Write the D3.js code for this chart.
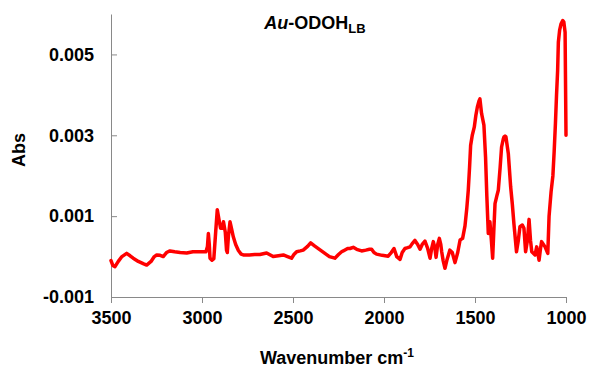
<!DOCTYPE html>
<html>
<head>
<meta charset="utf-8">
<script src="https://cdn.jsdelivr.net/npm/d3@7"></script>
<style>
html, body { margin: 0; padding: 0; background: #fff; }
svg { display: block; font-family: "Liberation Sans", Arial, sans-serif; }
</style>
</head>
<body>
<svg id="chart" width="589" height="368"></svg>
<script>
// Wavenumber (cm-1) and absorbance
const wavenumbers = [3500,3490,3478,3460,3440,3414,3395,3378,3350,3320,3304,3280,3262,3249,3230,3213,3195,3176,3150,3120,3084,3050,3011,2978,2970,2965,2960,2956,2945,2935,2925,2916,2906,2898,2890,2882,2872,2865,2861,2855,2846,2838,2828,2815,2800,2785,2773,2740,2710,2682,2645,2609,2580,2553,2530,2508,2495,2480,2460,2444,2420,2403,2380,2340,2300,2270,2250,2233,2224,2200,2187,2169,2150,2123,2100,2080,2068,2055,2041,2010,1977,1960,1945,1930,1912,1900,1885,1870,1857,1845,1830,1815,1802,1790,1775,1760,1747,1738,1729,1720,1714,1705,1696,1688,1683,1675,1665,1655,1638,1625,1610,1595,1582,1568,1555,1545,1537,1530,1524,1515,1504,1495,1487,1478,1473,1468,1464,1451,1442,1435,1427,1422,1418,1410,1403,1397,1390,1380,1372,1362,1354,1345,1341,1335,1330,1317,1304,1295,1286,1272,1262,1253,1240,1231,1222,1212,1203,1195,1188,1170,1161,1148,1140,1134,1115,1100,1093,1082,1072,1065,1058,1052,1046,1042,1035,1027,1018,1012,1005,1003,1000];
const absorbance = [-0.0001,-0.00022,-0.00025,-0.00012,0.0,0.00008,0.00002,-0.00004,-0.00012,-0.00018,-0.00021,-0.00012,0.0,0.00004,0.00003,0.0,0.0001,0.00014,0.00012,0.0001,0.00009,0.00012,0.00012,0.00012,0.00025,0.00057,0.0003,-0.00004,-0.00009,-0.00005,0.0006,0.00116,0.0009,0.0007,0.0007,0.00086,0.0006,0.00015,0.0001,0.0005,0.00086,0.0007,0.00049,0.0003,0.00015,0.00006,0.00004,0.00004,0.00005,0.00005,0.00009,0.0,0.00002,0.00004,0.0,-0.00004,0.00005,0.00012,0.00014,0.00016,0.00025,0.00034,0.00026,0.00013,0.0,-0.00004,0.00005,0.00012,0.00014,0.0002,0.0002,0.00023,0.00018,0.00014,0.00016,0.00018,0.00018,0.0001,0.00006,0.00003,0.00001,0.0001,0.0002,0.0,-0.00007,0.0001,0.0002,0.00022,0.00024,0.00032,0.0004,0.0003,0.00018,0.0003,0.00038,0.0002,-0.00004,0.0002,0.00037,0.0002,-0.00002,0.0003,0.00045,0.0003,0.00012,-0.0001,-0.00029,-0.0001,0.00016,0.0001,-0.00015,0.0001,0.00041,0.00045,0.00076,0.0012,0.00164,0.0022,0.00275,0.003,0.0032,0.0035,0.0037,0.00385,0.0039,0.0037,0.00354,0.00325,0.00246,0.0015,0.00057,0.0006,0.00086,0.0004,-0.00004,0.0006,0.00131,0.0015,0.00164,0.0022,0.00271,0.0029,0.00296,0.00298,0.00296,0.00255,0.00172,0.0013,0.0008,0.00012,0.0004,0.00074,0.00078,0.0007,0.00012,0.0004,0.00092,0.0004,0.00012,0.00004,0.00024,-0.00009,0.0002,0.00037,0.00024,0.00008,0.001,0.0016,0.002,0.0026,0.0033,0.004,0.0046,0.0053,0.0056,0.00576,0.00584,0.0058,0.00555,0.0045,0.003];
const xTicks = [3500,3000,2500,2000,1500,1000];
const yTicks = [-0.001,0.001,0.003,0.005];

const svg = d3.select("#chart");
const mLeft = 111, mRight = 566, mTop = 14, mBottom = 297;
const x = d3.scaleLinear().domain([3500,1000]).range([mLeft,mRight]);
const y = d3.scaleLinear().domain([-0.001,0.006]).range([mBottom,mTop]);
const axisColor = "#898989";
const fmtY = d => d3.format(".3f")(d).replace("\u2212", "-");

// X axis
const gx = svg.append("g").attr("transform", `translate(0,${mBottom})`)
  .call(d3.axisBottom(x).tickValues(xTicks).tickSize(6).tickSizeOuter(0).tickPadding(8).tickFormat(d3.format("d")));
gx.select(".domain").attr("stroke", axisColor);
gx.selectAll(".tick line").attr("stroke", axisColor);
gx.selectAll(".tick text").attr("fill","#000").style("font-size","18px").style("font-weight","bold")
  .style("font-family",'"Liberation Sans", Arial, sans-serif');

// Y axis (ticks inward)
const gy = svg.append("g").attr("transform", `translate(${mLeft},0)`)
  .call(d3.axisLeft(y).tickValues(yTicks).tickSize(-6).tickSizeOuter(0).tickPadding(17).tickFormat(fmtY));
gy.select(".domain").attr("stroke", axisColor);
gy.selectAll(".tick line").attr("stroke", axisColor);
gy.selectAll(".tick text").attr("fill","#000").style("font-size","18px").style("font-weight","bold")
  .style("font-family",'"Liberation Sans", Arial, sans-serif');

// Line
const data = wavenumbers.map((w,i)=>({w, a: absorbance[i]}));
svg.append("path").datum(data)
  .attr("fill","none").attr("stroke","#ff0000").attr("stroke-width",3.5)
  .attr("stroke-linejoin","round").attr("stroke-linecap","round")
  .attr("d", d3.line().x(d=>x(d.w)).y(d=>y(d.a)));

// Title
const title = svg.append("text").attr("x", 315).attr("y", 29).attr("text-anchor","middle")
  .style("font-size","18px").style("font-weight","bold");
title.append("tspan").style("font-style","italic").text("Au");
title.append("tspan").text("-ODOH");
title.append("tspan").attr("dy", 4).style("font-size","13px").text("LB");

// Axis titles
svg.append("text").attr("transform","translate(25,150) rotate(-90)").attr("text-anchor","middle")
  .style("font-size","18px").style("font-weight","bold").text("Abs");
const xl = svg.append("text").attr("x", 337).attr("y", 364).attr("text-anchor","middle")
  .style("font-size","18px").style("font-weight","bold");
xl.append("tspan").text("Wavenumber cm");
xl.append("tspan").attr("dy",-7).style("font-size","12px").text("-1");
</script>
</body>
</html>
